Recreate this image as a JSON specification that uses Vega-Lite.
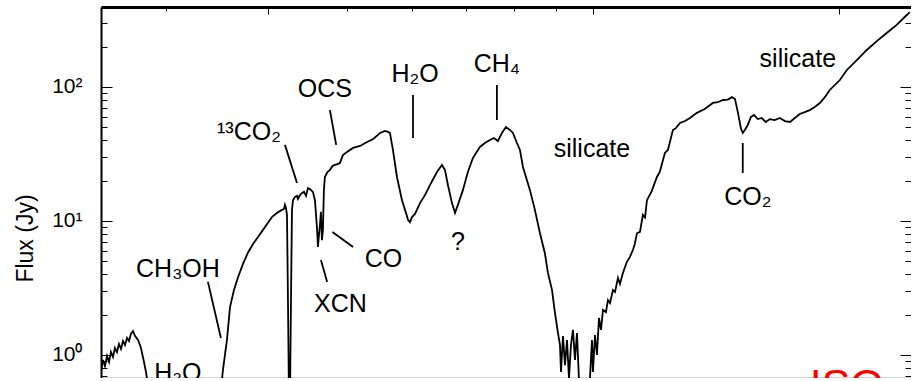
{
  "$schema": "https://vega.github.io/schema/vega-lite/v6.json",
  "autosize": "none",
  "padding": {"left": 101, "top": 7, "right": 0, "bottom": 0},
  "width": 810,
  "height": 371,
  "background": "white",
  "config": {
    "view": {"stroke": null},
    "font": "Liberation Sans",
    "axis": {"grid": false, "labelFont": "Liberation Sans", "titleFont": "Liberation Sans", "labelColor": "black", "titleColor": "black", "tickColor": "black", "domainColor": "black"}
  },
  "datasets": {
    "spectrum": [
      {"w": 2.5, "f": 0.746}, {"w": 2.514, "f": 0.918}, {"w": 2.528, "f": 0.828}, {"w": 2.543, "f": 0.983},
      {"w": 2.557, "f": 0.887}, {"w": 2.571, "f": 1.053}, {"w": 2.586, "f": 0.966}, {"w": 2.6, "f": 1.128},
      {"w": 2.615, "f": 1.05}, {"w": 2.63, "f": 1.208}, {"w": 2.645, "f": 1.109}, {"w": 2.66, "f": 1.272},
      {"w": 2.675, "f": 1.187}, {"w": 2.69, "f": 1.339}, {"w": 2.705, "f": 1.272}, {"w": 2.72, "f": 1.434},
      {"w": 2.736, "f": 1.51}, {"w": 2.752, "f": 1.386}, {"w": 2.775, "f": 1.294}, {"w": 2.798, "f": 1.128},
      {"w": 2.822, "f": 0.887}, {"w": 2.838, "f": 0.746}, {"w": 2.854, "f": 0.597}, {"w": 2.87, "f": 0.462},
      {"w": 2.95, "f": 0.3}, {"w": 3.45, "f": 0.3},
      {"w": 3.495, "f": 0.46}, {"w": 3.525, "f": 0.77}, {"w": 3.545, "f": 1.0}, {"w": 3.565, "f": 1.29},
      {"w": 3.596, "f": 2.28}, {"w": 3.636, "f": 3.05}, {"w": 3.678, "f": 3.8}, {"w": 3.73, "f": 4.78},
      {"w": 3.782, "f": 5.8}, {"w": 3.837, "f": 6.74}, {"w": 3.891, "f": 7.6}, {"w": 3.968, "f": 9.0},
      {"w": 4.047, "f": 10.7}, {"w": 4.105, "f": 11.5}, {"w": 4.163, "f": 12.1}, {"w": 4.186, "f": 12.3},
      {"w": 4.198, "f": 13.2}, {"w": 4.21, "f": 12.5}, {"w": 4.222, "f": 11.1}, {"w": 4.234, "f": 2.57},
      {"w": 4.246, "f": 0.46}, {"w": 4.258, "f": 0.46}, {"w": 4.27, "f": 2.57}, {"w": 4.282, "f": 12.1},
      {"w": 4.294, "f": 14.3}, {"w": 4.318, "f": 15.1}, {"w": 4.343, "f": 15.4}, {"w": 4.355, "f": 14.6},
      {"w": 4.38, "f": 15.6}, {"w": 4.405, "f": 16.2}, {"w": 4.43, "f": 16.5}, {"w": 4.455, "f": 15.4},
      {"w": 4.479, "f": 17.6}, {"w": 4.504, "f": 17.3}, {"w": 4.542, "f": 16.5}, {"w": 4.568, "f": 14.3},
      {"w": 4.594, "f": 9.0}, {"w": 4.607, "f": 6.4}, {"w": 4.62, "f": 7.85}, {"w": 4.633, "f": 9.34},
      {"w": 4.646, "f": 11.7}, {"w": 4.659, "f": 7.2}, {"w": 4.672, "f": 8.58}, {"w": 4.685, "f": 17.0},
      {"w": 4.698, "f": 21.3}, {"w": 4.732, "f": 23.2}, {"w": 4.765, "f": 24.0}, {"w": 4.799, "f": 25.7},
      {"w": 4.833, "f": 26.2}, {"w": 4.867, "f": 26.6}, {"w": 4.901, "f": 27.1}, {"w": 4.943, "f": 31.0},
      {"w": 5.0, "f": 32.7}, {"w": 5.086, "f": 35.1}, {"w": 5.188, "f": 36.3}, {"w": 5.291, "f": 38.9},
      {"w": 5.383, "f": 40.9}, {"w": 5.488, "f": 45.4}, {"w": 5.564, "f": 47.0}, {"w": 5.612, "f": 46.2},
      {"w": 5.643, "f": 45.4}, {"w": 5.691, "f": 33.9}, {"w": 5.756, "f": 21.3}, {"w": 5.838, "f": 14.3},
      {"w": 5.904, "f": 11.5}, {"w": 5.937, "f": 10.2}, {"w": 5.971, "f": 9.8}, {"w": 6.005, "f": 10.7},
      {"w": 6.056, "f": 11.3}, {"w": 6.142, "f": 13.6}, {"w": 6.228, "f": 15.6}, {"w": 6.317, "f": 18.5},
      {"w": 6.443, "f": 23.2}, {"w": 6.534, "f": 26.2}, {"w": 6.59, "f": 24.0}, {"w": 6.646, "f": 18.5},
      {"w": 6.721, "f": 13.6}, {"w": 6.779, "f": 11.5}, {"w": 6.834, "f": 13.2}, {"w": 6.931, "f": 17.0},
      {"w": 7.029, "f": 23.2}, {"w": 7.129, "f": 29.5}, {"w": 7.271, "f": 35.7}, {"w": 7.375, "f": 38.2},
      {"w": 7.479, "f": 40.2}, {"w": 7.564, "f": 41.6}, {"w": 7.65, "f": 39.5}, {"w": 7.737, "f": 45.4},
      {"w": 7.825, "f": 50.3}, {"w": 7.913, "f": 47.8}, {"w": 7.981, "f": 45.4}, {"w": 8.071, "f": 38.2},
      {"w": 8.14, "f": 33.9}, {"w": 8.209, "f": 25.3}, {"w": 8.373, "f": 17.0}, {"w": 8.49, "f": 12.1},
      {"w": 8.612, "f": 8.1}, {"w": 8.73, "f": 5.8}, {"w": 8.808, "f": 4.1}, {"w": 8.91, "f": 3.05},
      {"w": 8.984, "f": 2.06}, {"w": 9.06, "f": 1.46}, {"w": 9.112, "f": 1.19}, {"w": 9.138, "f": 0.746},
      {"w": 9.189, "f": 1.386}, {"w": 9.241, "f": 0.84}, {"w": 9.294, "f": 1.29}, {"w": 9.346, "f": 0.67},
      {"w": 9.399, "f": 1.19}, {"w": 9.452, "f": 1.54}, {"w": 9.505, "f": 0.92}, {"w": 9.559, "f": 1.46},
      {"w": 9.613, "f": 0.65}, {"w": 9.667, "f": 0.46}, {"w": 9.86, "f": 0.46}, {"w": 9.915, "f": 0.67},
      {"w": 9.972, "f": 1.29}, {"w": 9.999, "f": 0.746}, {"w": 10.056, "f": 1.41}, {"w": 10.113, "f": 1.0},
      {"w": 10.17, "f": 1.89}, {"w": 10.228, "f": 1.54}, {"w": 10.286, "f": 2.17}, {"w": 10.372, "f": 2.09},
      {"w": 10.431, "f": 2.57}, {"w": 10.49, "f": 2.44}, {"w": 10.579, "f": 3.05}, {"w": 10.639, "f": 2.95},
      {"w": 10.73, "f": 3.76}, {"w": 10.79, "f": 3.39}, {"w": 10.881, "f": 4.1}, {"w": 11.0, "f": 4.94},
      {"w": 11.097, "f": 5.4}, {"w": 11.19, "f": 6.07}, {"w": 11.25, "f": 6.74}, {"w": 11.319, "f": 8.1},
      {"w": 11.415, "f": 8.29}, {"w": 11.51, "f": 11.1}, {"w": 11.58, "f": 10.6}, {"w": 11.642, "f": 14.3},
      {"w": 11.8, "f": 16.7}, {"w": 11.974, "f": 21.3}, {"w": 12.07, "f": 23.2}, {"w": 12.247, "f": 32.2},
      {"w": 12.35, "f": 33.9}, {"w": 12.526, "f": 47.8}, {"w": 12.63, "f": 49.3}, {"w": 12.776, "f": 53.9},
      {"w": 12.96, "f": 55.7}, {"w": 13.141, "f": 58.7}, {"w": 13.403, "f": 64.1}, {"w": 13.7, "f": 68.5},
      {"w": 14.02, "f": 76.0}, {"w": 14.22, "f": 77.0}, {"w": 14.42, "f": 80.0}, {"w": 14.62, "f": 80.5},
      {"w": 14.791, "f": 84.0}, {"w": 14.92, "f": 81.4}, {"w": 15.04, "f": 65.0}, {"w": 15.17, "f": 49.3},
      {"w": 15.25, "f": 45.4}, {"w": 15.34, "f": 47.8}, {"w": 15.47, "f": 52.0}, {"w": 15.6, "f": 59.6},
      {"w": 15.74, "f": 61.8}, {"w": 15.91, "f": 57.6}, {"w": 16.09, "f": 58.7}, {"w": 16.27, "f": 54.8},
      {"w": 16.46, "f": 57.6}, {"w": 16.69, "f": 56.7}, {"w": 16.93, "f": 58.7}, {"w": 17.17, "f": 55.7},
      {"w": 17.42, "f": 54.8}, {"w": 17.66, "f": 58.7}, {"w": 17.91, "f": 62.9}, {"w": 18.16, "f": 65.0},
      {"w": 18.42, "f": 67.2}, {"w": 18.68, "f": 71.0}, {"w": 18.95, "f": 76.0}, {"w": 19.22, "f": 84.0},
      {"w": 19.49, "f": 95.0}, {"w": 20.05, "f": 112.7}, {"w": 20.45, "f": 134.0}, {"w": 21.03, "f": 159.0},
      {"w": 21.63, "f": 189.0}, {"w": 22.25, "f": 220.0}, {"w": 22.88, "f": 253.0}, {"w": 23.53, "f": 291.0},
      {"w": 24.07, "f": 333.0}, {"w": 24.42, "f": 362.0}
    ],
    "pointers": [
      {"w": 3.379, "f": 3.51, "w2": 3.505, "f2": 1.34},
      {"w": 4.198, "f": 37.0, "w2": 4.343, "f2": 19.2},
      {"w": 4.765, "f": 67.2, "w2": 4.85, "f2": 37.0},
      {"w": 4.646, "f": 5.11, "w2": 4.728, "f2": 3.51},
      {"w": 4.799, "f": 8.29, "w2": 5.086, "f2": 6.4},
      {"w": 6.022, "f": 87.1, "w2": 6.022, "f2": 41.6},
      {"w": 7.628, "f": 103.5, "w2": 7.628, "f2": 56.7},
      {"w": 15.25, "f": 38.2, "w2": 15.25, "f2": 22.8}
    ],
    "labels": [
      {"t": "¹³CO₂", "w": 3.793, "f": 40.2},
      {"t": "OCS", "w": 4.698, "f": 84},
      {"t": "H₂O", "w": 6.056, "f": 109},
      {"t": "CH₄", "w": 7.628, "f": 129},
      {"t": "silicate", "w": 9.97, "f": 30.0},
      {"t": "silicate", "w": 17.81, "f": 141},
      {"t": "CO₂", "w": 15.47, "f": 13.2},
      {"t": "CH₃OH", "w": 3.105, "f": 3.8},
      {"t": "XCN", "w": 4.909, "f": 2.09},
      {"t": "CO", "w": 5.541, "f": 4.5},
      {"t": "?", "w": 6.834, "f": 6.07},
      {"t": "H₂O", "w": 3.105, "f": 0.64}
    ],
    "badge": [
      {"t": "ISO", "w": 20.45, "f": 0.47}
    ]
  },
  "resolve": {"axis": {"x": "independent", "y": "independent"}},
  "layer": [
    {
      "data": {"name": "spectrum"},
      "mark": {"type": "line", "color": "black", "strokeWidth": 1.8, "clip": true},
      "encoding": {
        "x": {"field": "w", "type": "quantitative", "scale": {"type": "log", "domain": [2.5, 24.5], "nice": false},
          "axis": {"orient": "top", "title": null, "labels": false, "values": [3, 4, 5, 6, 7, 8, 9, 10, 20],
            "domainWidth": 3,
            "tickSize": {"condition": {"test": "datum.value == 4 || datum.value == 10 || datum.value == 20", "value": -7}, "value": -4}}},
        "y": {"field": "f", "type": "quantitative", "scale": {"type": "log", "domain": [0.6734, 395.4], "nice": false},
          "axis": {"orient": "left", "title": "Flux (Jy)", "titleFontSize": 23, "titleFontWeight": "normal",
            "titleX": -76, "titleY": 231, "titleAngle": -90, "titleAlign": "center", "titleBaseline": "middle",
            "values": [0.7, 0.8, 0.9, 1, 2, 3, 4, 5, 6, 7, 8, 9, 10, 20, 30, 40, 50, 60, 70, 80, 90, 100, 200, 300],
            "labelExpr": "datum.value == 100 ? '10²' : datum.value == 10 ? '10¹' : datum.value == 1 ? '10⁰' : ''",
            "labelFontSize": 21, "labelPadding": 30, "domainWidth": 2,
            "tickSize": {"condition": {"test": "datum.value == 1 || datum.value == 10 || datum.value == 100", "value": -11}, "value": -6}}}
      }
    },
    {
      "data": {"name": "pointers"},
      "mark": {"type": "rule", "color": "black", "strokeWidth": 1.8},
      "encoding": {
        "x": {"field": "w", "type": "quantitative", "scale": {"type": "log", "domain": [2.5, 24.5], "nice": false},
          "axis": {"orient": "bottom", "title": null, "labels": false, "ticks": false, "domainColor": "#aaaaaa", "domainWidth": 2}},
        "x2": {"field": "w2"},
        "y": {"field": "f", "type": "quantitative", "scale": {"type": "log", "domain": [0.6734, 395.4], "nice": false},
          "axis": {"orient": "right", "title": null, "labels": false,
            "values": [0.7, 0.8, 0.9, 1, 2, 3, 4, 5, 6, 7, 8, 9, 10, 20, 30, 40, 50, 60, 70, 80, 90, 100, 200, 300],
            "tickSize": {"condition": {"test": "datum.value == 1 || datum.value == 10 || datum.value == 100", "value": -11}, "value": -6}}},
        "y2": {"field": "f2"}
      }
    },
    {
      "data": {"name": "labels"},
      "mark": {"type": "text", "color": "black", "fontSize": 25, "align": "center", "baseline": "alphabetic", "font": "Liberation Sans"},
      "encoding": {
        "x": {"field": "w", "type": "quantitative", "axis": null},
        "y": {"field": "f", "type": "quantitative", "axis": null},
        "text": {"field": "t"}
      }
    },
    {
      "data": {"name": "badge"},
      "mark": {"type": "text", "color": "#ff0000", "fontSize": 43, "align": "center", "baseline": "alphabetic", "font": "Liberation Sans"},
      "encoding": {
        "x": {"field": "w", "type": "quantitative", "axis": null},
        "y": {"field": "f", "type": "quantitative", "axis": null},
        "text": {"field": "t"}
      }
    }
  ]
}
